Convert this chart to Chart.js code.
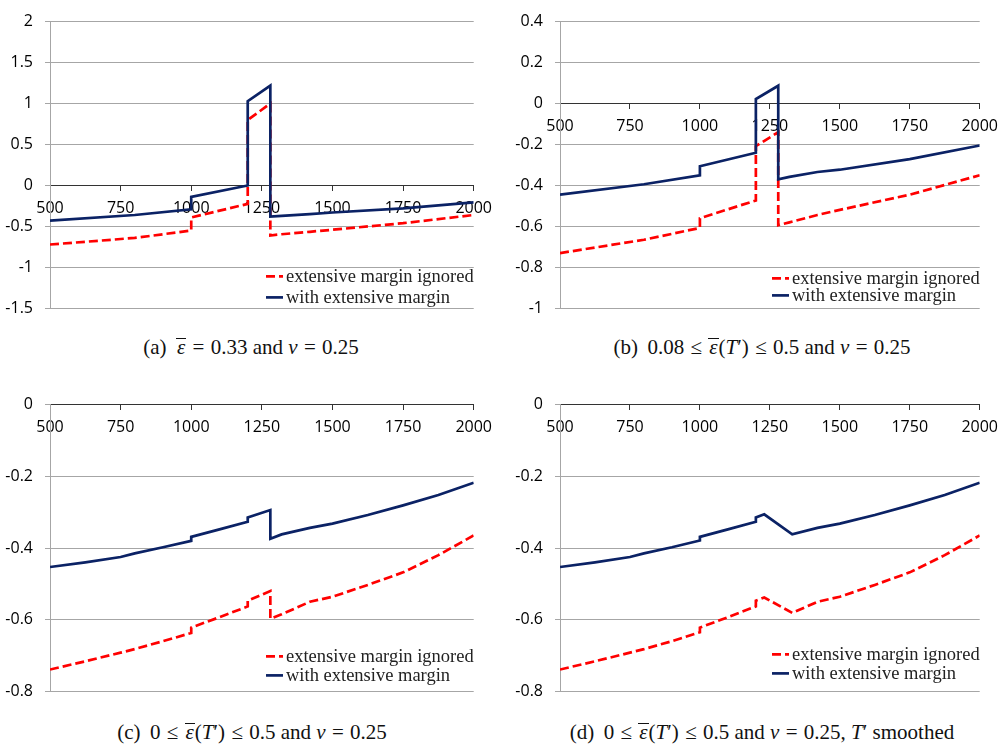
<!DOCTYPE html>
<html>
<head>
<meta charset="utf-8">
<script src="https://cdn.jsdelivr.net/npm/chart.js"></script>
<style>
    html, body { margin: 0; padding: 0; background: #fff; overflow: hidden; }
    .panel { position: absolute; }
    .caption {
        position: absolute;
        width: 500px;
        text-align: center;
        font-family: "Liberation Serif", "Times New Roman", serif;
        font-size: 21px;
        line-height: 22px;
        color: #111;
        white-space: nowrap;
    }
    .ob {
        display: inline-block;
        border-top: 1.4px solid #111;
        line-height: 0.78em;
        padding: 0 1px;
    }
    .rel { margin: 0 0.3em; }
    .lab { margin-right: 0.45em; }
</style>
</head>
<body>
<div class="panel" style="left:0;top:0"><canvas id="chartA" width="500" height="330"></canvas></div>
<div class="panel" style="left:510px;top:0"><canvas id="chartB" width="496" height="330"></canvas></div>
<div class="panel" style="left:0;top:383px"><canvas id="chartC" width="500" height="330"></canvas></div>
<div class="panel" style="left:510px;top:383px"><canvas id="chartD" width="496" height="330"></canvas></div>

<div class="caption" style="left:1px;top:336px"><span class="lab">(a)</span><i class="ob">ε</i><span class="rel">=</span>0.33 and <i>ν</i><span class="rel">=</span>0.25</div>
<div class="caption" style="left:512px;top:336px"><span class="lab">(b)</span>0.08<span class="rel">≤</span><i class="ob">ε</i>(<i>T</i>′)<span class="rel">≤</span>0.5 and <i>ν</i><span class="rel">=</span>0.25</div>
<div class="caption" style="left:2px;top:721px"><span class="lab">(c)</span>0<span class="rel">≤</span><i class="ob">ε</i>(<i>T</i>′)<span class="rel">≤</span>0.5 and <i>ν</i><span class="rel">=</span>0.25</div>
<div class="caption" style="left:512px;top:721px"><span class="lab">(d)</span>0<span class="rel">≤</span><i class="ob">ε</i>(<i>T</i>′)<span class="rel">≤</span>0.5 and <i>ν</i><span class="rel">=</span>0.25, <i>T</i>′ smoothed</div>

<script>
// series names
const seriesLabels = ['extensive margin ignored', 'with extensive margin'];

// (a) constant elasticity
const incomeA = [500, 800, 1000, 1000, 1200, 1200, 1280, 1280, 1320, 1420, 1500, 1750, 2000];
const ignoredA = [-0.72, -0.64, -0.55, -0.39, -0.225, 0.80, 1.0, -0.61, -0.595, -0.565, -0.54, -0.46, -0.36];
const withA = [-0.43, -0.36, -0.29, -0.14, 0.0, 1.03, 1.22, -0.38, -0.37, -0.35, -0.33, -0.28, -0.205];

// (b) 0.08 <= eps <= 0.5
const incomeB = [500, 800, 1000, 1000, 1200, 1200, 1280, 1280, 1320, 1420, 1500, 1750, 2000];
const ignoredB = [-0.73, -0.665, -0.607, -0.56, -0.473, -0.208, -0.14, -0.594, -0.58, -0.544, -0.519, -0.445, -0.35];
const withB = [-0.445, -0.394, -0.35, -0.306, -0.24, 0.022, 0.087, -0.37, -0.358, -0.334, -0.323, -0.271, -0.205];

// (c) 0 <= eps <= 0.5
const incomeC = [500, 625, 750, 800, 900, 1000, 1000, 1100, 1200, 1200, 1280, 1280, 1320, 1420, 1500, 1625, 1750, 1875, 2000];
const ignoredC = [-0.739, -0.716, -0.692, -0.682, -0.66, -0.637, -0.622, -0.593, -0.563, -0.547, -0.52, -0.597, -0.585, -0.55, -0.536, -0.503, -0.468, -0.42, -0.365];
const withC = [-0.453, -0.44, -0.425, -0.415, -0.398, -0.38, -0.369, -0.348, -0.327, -0.315, -0.294, -0.374, -0.362, -0.344, -0.332, -0.308, -0.281, -0.252, -0.218];

// (d) T' smoothed
const incomeD = [500, 625, 750, 800, 900, 1000, 1000, 1100, 1200, 1200, 1230, 1330, 1420, 1500, 1625, 1750, 1875, 2000];
const ignoredD = [-0.739, -0.716, -0.692, -0.682, -0.66, -0.635, -0.622, -0.593, -0.563, -0.547, -0.538, -0.581, -0.55, -0.536, -0.503, -0.468, -0.42, -0.365];
const withD = [-0.453, -0.44, -0.425, -0.415, -0.398, -0.379, -0.369, -0.348, -0.327, -0.315, -0.306, -0.362, -0.344, -0.332, -0.308, -0.281, -0.252, -0.218];

// legend drawn inside the plot, bottom right
const cornerLegend = {
    id: 'cornerLegend',
    afterDatasetsDraw(chart, args, opts) {
        const ctx = chart.ctx;
        const area = chart.chartArea;
        const sets = chart.data.datasets;
        ctx.save();
        ctx.font = '18.5px "Liberation Serif"';
        const widest = Math.max(...sets.map(d => ctx.measureText(d.label).width));
        const textX = area.right - widest;
        sets.forEach((d, i) => {
            const y = area.bottom - opts.bottom - (sets.length - 1 - i) * opts.gap;
            ctx.strokeStyle = d.borderColor;
            ctx.lineWidth = d.borderWidth;
            ctx.setLineDash(d.borderDash || []);
            ctx.beginPath();
            ctx.moveTo(textX - 20, y);
            ctx.lineTo(textX - 3, y);
            ctx.stroke();
            ctx.setLineDash([]);
            ctx.fillStyle = '#222';
            ctx.textBaseline = 'middle';
            ctx.fillText(d.label, textX, y + 1);
        });
        ctx.restore();
    }
};

const gridGray = '#a6a6a6';

// 2 -> "2", -0.2 -> "-0.2", never "-0"
function yLabel(value) {
    const v = Math.round(value * 100) / 100;
    return Math.abs(v) < 1e-9 ? '0' : String(v);
}

function makeChart(id, income, ignored, withExt, yMin, yMax, yStep, rightPad, legend) {
    new Chart(document.getElementById(id), {
        type: 'line',
        data: {
            datasets: [
                {
                    label: seriesLabels[0],
                    data: income.map((x, i) => ({ x: x, y: ignored[i] })),
                    borderColor: '#ff0000',
                    borderWidth: 2.7,
                    borderDash: [9, 4],
                    pointRadius: 0,
                    tension: 0,
                    order: 1
                },
                {
                    label: seriesLabels[1],
                    data: income.map((x, i) => ({ x: x, y: withExt[i] })),
                    borderColor: '#0b2265',
                    borderWidth: 2.7,
                    pointRadius: 0,
                    tension: 0,
                    order: 0
                }
            ]
        },
        options: {
            responsive: false,
            animation: false,
            layout: { padding: { left: 0, right: rightPad, top: 15, bottom: 19 } },
            scales: {
                x: {
                    type: 'linear',
                    position: { y: 0 },
                    min: 500,
                    max: 2000,
                    ticks: {
                        stepSize: 250,
                        padding: 8,
                        color: '#000',
                        font: { family: 'Open Sans', size: 16 },
                        callback: value => String(value)
                    },
                    grid: { drawOnChartArea: false, tickLength: 5, tickColor: '#333' },
                    border: { color: '#333', width: 1 }
                },
                y: {
                    min: yMin,
                    max: yMax,
                    afterFit: scale => { scale.width = 50; },
                    ticks: {
                        stepSize: yStep,
                        padding: 12,
                        color: '#000',
                        font: { family: 'Open Sans', size: 16 },
                        callback: yLabel
                    },
                    grid: {
                        color: ctx => ctx.tick && ctx.tick.value === 0 ? 'rgba(0,0,0,0)' : gridGray,
                        tickColor: gridGray,
                        tickLength: 5
                    },
                    border: { color: gridGray }
                }
            },
            plugins: {
                legend: { display: false },
                tooltip: { enabled: false },
                cornerLegend: legend
            }
        },
        plugins: [cornerLegend]
    });
}

makeChart('chartA', incomeA, ignoredA, withA, -1.5, 2, 0.5, 25, { bottom: 11, gap: 21 });
makeChart('chartB', incomeB, ignoredB, withB, -1, 0.4, 0.2, 20, { bottom: 13, gap: 17 });
makeChart('chartC', incomeC, ignoredC, withC, -0.8, 0, 0.2, 25, { bottom: 16, gap: 19 });
makeChart('chartD', incomeD, ignoredD, withD, -0.8, 0, 0.2, 20, { bottom: 18, gap: 19 });
</script>
</body>
</html>
